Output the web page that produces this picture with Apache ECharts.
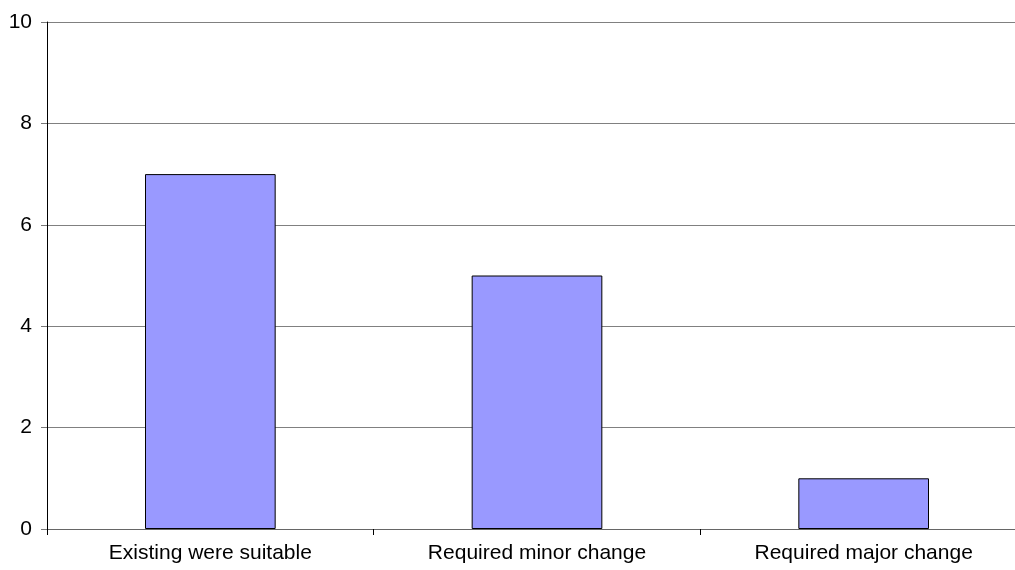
<!DOCTYPE html>
<html>
<head>
<meta charset="utf-8">
<script src="https://cdn.jsdelivr.net/npm/echarts@6/dist/echarts.min.js"></script>
<style>
html,body{margin:0;padding:0;background:#fff;overflow:hidden;width:1015px;height:570px;}
#chart{width:1030px;height:570px;}
</style>
</head>
<body>
<div id="chart"></div>
<script>
const categories = ["Existing were suitable", "Required minor change", "Required major change"];
const values = [7, 5, 1];
const yTicks = [0, 2, 4, 6, 8, 10];

const chart = echarts.init(document.getElementById('chart'), null, {renderer: 'canvas'});
chart.setOption({
  animation: false,
  backgroundColor: '#ffffff',
  grid: {left: 47, top: 22, right: 3, bottom: 41, containLabel: false},
  xAxis: {
    type: 'category',
    data: categories,
    boundaryGap: true,
    axisLine: {show: true, lineStyle: {color: '#666666', width: 1}},
    axisTick: {show: true, length: 6, inside: false, lineStyle: {color: '#000000'}},
    axisLabel: {color: '#000000', fontFamily: 'Liberation Sans, Arial, sans-serif', fontSize: 21, margin: 14},
    splitLine: {show: false}
  },
  yAxis: {
    type: 'value',
    min: yTicks[0],
    max: yTicks[yTicks.length - 1],
    interval: 2,
    axisLine: {show: true, lineStyle: {color: '#000000', width: 1}},
    axisTick: {show: true, length: 6, lineStyle: {color: '#777777'}},
    axisLabel: {color: '#000000', fontFamily: 'Liberation Sans, Arial, sans-serif', fontSize: 21, margin: 15},
    splitLine: {show: true, lineStyle: {color: '#808080', width: 1}}
  },
  series: [{
    type: 'bar',
    data: values,
    barWidth: '40%',
    itemStyle: {color: '#9999FF', borderColor: '#000000', borderWidth: 1}
  }]
});
</script>
</body>
</html>
